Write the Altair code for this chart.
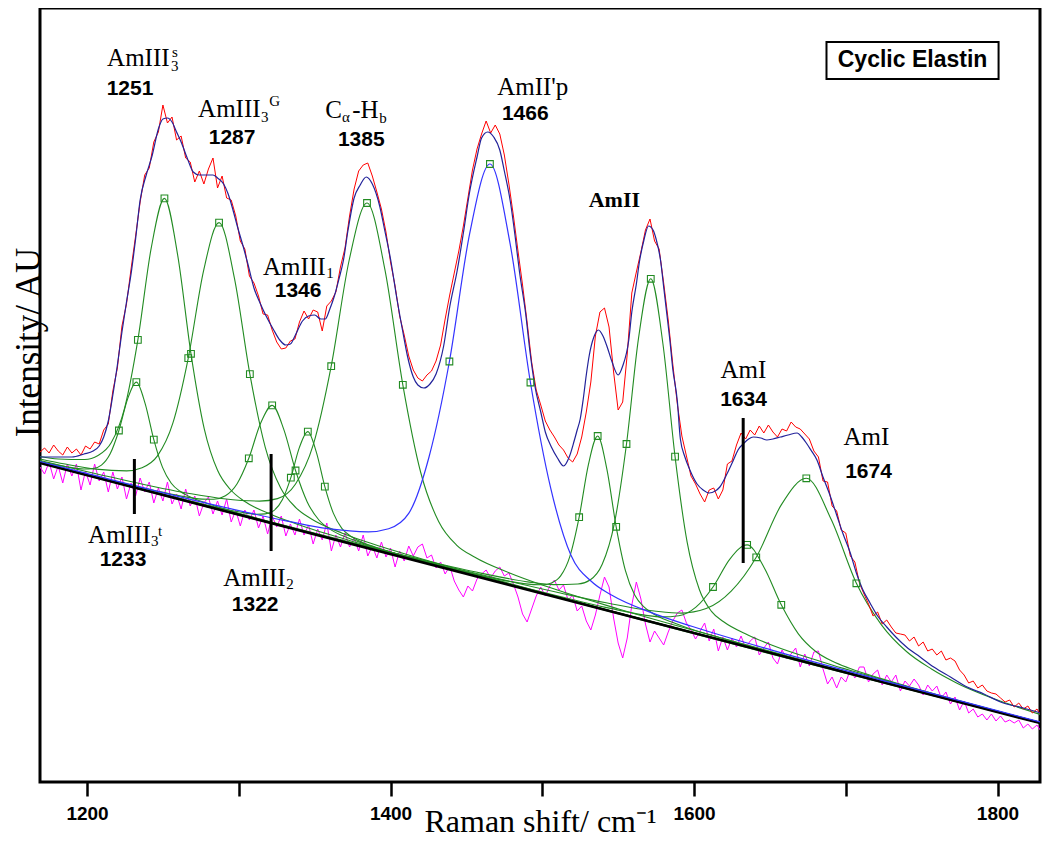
import altair as alt
import pandas as pd

X_DOMAIN = [1169, 1828]
Y_DOMAIN = [0, 774]
tick_values = [1200, 1300, 1400, 1500, 1600, 1700, 1800]

# measured spectrum (red) and residual (magenta) on a common Raman-shift grid
spec_x = [1169, 1172, 1175, 1178, 1181, 1184, 1187, 1190, 1193, 1196,
          1199, 1202, 1205, 1208, 1211, 1214, 1217, 1220, 1223, 1226,
          1229, 1232, 1235, 1238, 1241, 1244, 1247, 1250, 1253, 1256,
          1259, 1262, 1265, 1268, 1271, 1274, 1277, 1280, 1283, 1286,
          1289, 1292, 1295, 1298, 1301, 1304, 1307, 1310, 1313, 1316,
          1319, 1322, 1325, 1328, 1331, 1334, 1337, 1340, 1343, 1346,
          1349, 1352, 1355, 1358, 1361, 1364, 1367, 1370, 1373, 1376,
          1379, 1382, 1385, 1388, 1391, 1394, 1397, 1400, 1403, 1406,
          1409, 1412, 1415, 1418, 1421, 1424, 1427, 1430, 1433, 1436,
          1439, 1442, 1445, 1448, 1451, 1454, 1457, 1460, 1463, 1466,
          1469, 1472, 1475, 1478, 1481, 1484, 1487, 1490, 1493, 1496,
          1499, 1502, 1505, 1508, 1511, 1514, 1517, 1520, 1523, 1526,
          1529, 1532, 1535, 1538, 1541, 1544, 1547, 1550, 1553, 1556,
          1559, 1562, 1565, 1568, 1571, 1574, 1577, 1580, 1583, 1586,
          1589, 1592, 1595, 1598, 1601, 1604, 1607, 1610, 1613, 1616,
          1619, 1622, 1625, 1628, 1631, 1634, 1637, 1640, 1643, 1646,
          1649, 1652, 1655, 1658, 1661, 1664, 1667, 1670, 1673, 1676,
          1679, 1682, 1685, 1688, 1691, 1694, 1697, 1700, 1703, 1706,
          1709, 1712, 1715, 1718, 1721, 1724, 1727, 1730, 1733, 1736,
          1739, 1742, 1745, 1748, 1751, 1754, 1757, 1760, 1763, 1766,
          1769, 1772, 1775, 1778, 1781, 1784, 1787, 1790, 1793, 1796,
          1799, 1802, 1805, 1808, 1811, 1814, 1817, 1820, 1823, 1826,
          1829, 1832]
spec_y = [330, 334, 329, 337, 331, 327, 335, 329, 333, 327,
          336, 333, 340, 338, 352, 358, 391, 414, 456, 478,
          513, 546, 580, 607, 614, 640, 650, 677, 659, 665,
          642, 646, 624, 620, 600, 611, 598, 613, 624, 594,
          606, 584, 582, 566, 541, 533, 506, 499, 486, 468,
          467, 452, 440, 433, 434, 441, 443, 460, 471, 463,
          472, 470, 451, 476, 481, 490, 515, 534, 566, 593,
          611, 617, 619, 606, 590, 573, 550, 520, 496, 466,
          447, 426, 412, 404, 401, 407, 411, 421, 437, 463,
          487, 509, 531, 556, 584, 612, 633, 648, 661, 649,
          657, 648, 627, 598, 566, 531, 497, 460, 420, 392,
          377, 361, 352, 345, 337, 332, 324, 320, 328, 345,
          370, 400, 446, 470, 474, 455, 410, 372, 380, 428,
          489, 510, 530, 552, 563, 541, 533, 499, 462, 418,
          378, 346, 326, 306, 298, 288, 280, 292, 294, 283,
          292, 318, 321, 337, 349, 343, 352, 347, 356, 349,
          357, 350, 345, 353, 351, 360, 355, 353, 348, 343,
          331, 325, 301, 300, 276, 271, 252, 249, 226, 220,
          199, 188, 178, 166, 170, 158, 162, 155, 149, 148,
          147, 141, 145, 136, 140, 131, 133, 127, 131, 122,
          124, 121, 112, 107, 99, 101, 94, 97, 91, 89,
          88, 84, 80, 82, 75, 79, 73, 76, 69, 73,
          66, 70]
resid_y = [315, 308, 320, 303, 316, 299, 318, 306, 318, 292,
           311, 297, 318, 301, 310, 290, 310, 293, 305, 283,
           299, 286, 304, 290, 300, 279, 294, 281, 300, 278,
           288, 273, 293, 276, 286, 266, 279, 285, 268, 281,
           267, 283, 260, 272, 256, 272, 262, 272, 254, 266,
           248, 266, 255, 266, 246, 258, 247, 263, 247, 257,
           238, 253, 242, 259, 231, 247, 235, 249, 235, 244,
           231, 247, 226, 236, 224, 240, 225, 234, 215, 231,
           221, 236, 226, 235, 238, 224, 227, 214, 220, 208,
           216, 201, 192, 185, 196, 191, 203, 208, 212, 204,
           211, 215, 206, 209, 198, 185, 168, 160, 173, 186,
           195, 186, 196, 202, 192, 197, 182, 187, 171, 176,
           161, 152, 167, 187, 205, 195, 164, 139, 124, 144,
           177, 200, 183, 158, 140, 151, 144, 137, 150, 161,
           169, 172, 159, 152, 143, 151, 159, 141, 153, 131,
           145, 132, 144, 135, 146, 134, 141, 145, 127, 134,
           140, 124, 118, 132, 123, 128, 134, 115, 128, 116,
           130, 131, 113, 98, 105, 94, 105, 100, 112, 104,
           115, 115, 100, 108, 112, 97, 107, 100, 107, 91,
           101, 96, 103, 97, 87, 97, 91, 96, 84, 90,
           78, 85, 72, 81, 69, 73, 65, 68, 62, 68,
           61, 66, 60, 62, 59, 62, 54, 58, 53, 57,
           50, 52]

# total fit (dark blue)
fit_x = [1169, 1180, 1190, 1198, 1204, 1208, 1211, 1214, 1217, 1220,
         1223, 1226, 1229, 1232, 1235, 1239, 1243, 1247, 1250, 1253,
         1256, 1259, 1262, 1266, 1270, 1274, 1279, 1283, 1286, 1290,
         1293, 1296, 1299, 1303, 1306, 1310, 1314, 1318, 1323, 1327,
         1331, 1334, 1337, 1342, 1346, 1350, 1354, 1357, 1360, 1363,
         1366, 1369, 1372, 1376, 1380, 1384, 1388, 1393, 1396, 1400,
         1404, 1408, 1411, 1415, 1418, 1422, 1426, 1430, 1435, 1439,
         1444, 1448, 1452, 1457, 1460, 1464, 1468, 1472, 1475, 1479,
         1482, 1485, 1489, 1492, 1495, 1499, 1502, 1506, 1510, 1514,
         1518, 1521, 1523, 1525, 1527, 1529, 1531, 1534, 1537, 1540,
         1543, 1546, 1550, 1553, 1557, 1559, 1562, 1564, 1567, 1570,
         1573, 1575, 1578, 1580, 1582, 1584, 1586, 1589, 1591, 1594,
         1597, 1602, 1606, 1610, 1614, 1617, 1622, 1626, 1629, 1633,
         1636, 1639, 1644, 1648, 1652, 1657, 1662, 1668, 1671, 1674,
         1677, 1681, 1685, 1690, 1694, 1698, 1703, 1707, 1711, 1716,
         1721, 1727, 1733, 1740, 1749, 1758, 1769, 1780, 1791, 1802,
         1817, 1833]
fit_y = [325, 325, 325, 328, 331, 336, 345, 361, 387, 417,
         450, 480, 508, 543, 582, 607, 627, 653, 663, 664,
         660, 650, 640, 624, 610, 607, 607, 607, 604, 598,
         588, 573, 556, 535, 518, 494, 479, 466, 452, 442,
         437, 438, 446, 461, 466, 467, 463, 463, 473, 486,
         503, 522, 552, 584, 597, 605, 598, 575, 553, 523,
         485, 451, 427, 405, 397, 394, 398, 408, 436, 475,
         512, 549, 589, 625, 644, 650, 645, 632, 611, 580,
         547, 510, 469, 429, 397, 370, 350, 335, 324, 316,
         326, 341, 352, 363, 383, 407, 427, 445, 452, 446,
         434, 420, 407, 416, 442, 470, 498, 520, 542, 556,
         552, 543, 521, 495, 469, 443, 413, 381, 343, 325,
         313, 298, 292, 289, 291, 295, 309, 322, 332, 339,
         343, 345, 344, 342, 343, 345, 347, 349, 345, 339,
         332, 322, 305, 285, 267, 249, 229, 209, 193, 179,
         166, 155, 145, 135, 125, 115, 105, 95, 88, 80,
         74, 67]

# linear baseline (black)
base_x = [1169, 1833]
base_y = [319, 57]

# fitted band components (green; 1466 drawn in blue)
c1233_x = [1169, 1175, 1186.5, 1198, 1203.75, 1209.5, 1215.25, 1221, 1226.75, 1232.5, 1238.25, 1244, 1249.75, 1255.5, 1261.25, 1267, 1278.5, 1290, 1313, 1347.5, 1833]
c1233_y = [320.7, 318.6, 315.2, 313.0, 313.4, 316.9, 328.2, 351.5, 383.1, 399.9, 378.6, 342.4, 314.6, 298.8, 290.7, 285.8, 278.9, 273.3, 263.3, 249.1, 57.0]
c1251_x = [1169, 1181, 1198.5, 1207.25, 1216, 1224.75, 1233.5, 1242.25, 1251, 1259.75, 1268.5, 1277.25, 1286, 1294.75, 1303.5, 1321, 1338.5, 1373.5, 1426, 1833]
c1251_y = [325.5, 323.0, 322.5, 326.5, 339.4, 373.9, 442.1, 533.6, 583.6, 526.7, 428.2, 353.2, 311.7, 292.0, 281.0, 267.7, 257.8, 241.3, 219.1, 57.1]
c1287_x = [1169, 1185.5, 1205.8, 1226.1, 1236.25, 1246.4, 1256.55, 1266.7, 1276.85, 1287, 1297.15, 1307.3, 1317.45, 1327.6, 1337.75, 1347.9, 1368.2, 1388.5, 1429.1, 1490, 1833]
c1287_y = [323.1, 318.0, 312.9, 311.1, 314.3, 326.1, 358.8, 423.9, 511.7, 559.4, 503.7, 407.9, 334.7, 294.0, 274.2, 263.0, 248.8, 237.9, 219.3, 193.8, 57.2]
c1322_x = [1169, 1214.2, 1245, 1260.4, 1275.8, 1283.5, 1291.2, 1298.9, 1306.6, 1314.3, 1322, 1329.7, 1337.4, 1345.1, 1352.8, 1360.5, 1368.2, 1383.6, 1399, 1429.8, 1476, 1833]
c1322_y = [319.6, 302.4, 291.3, 286.4, 282.9, 282.8, 286.3, 298.3, 323.7, 358.5, 376.6, 352.4, 311.5, 280.1, 262.0, 252.4, 246.4, 237.8, 230.5, 217.3, 198.5, 57.1]
c1346_x = [1169, 1233.5, 1267.1, 1289.5, 1300.7, 1311.9, 1317.5, 1323.1, 1328.7, 1334.3, 1339.9, 1345.5, 1351.1, 1356.7, 1362.3, 1367.9, 1373.5, 1379.1, 1390.3, 1401.5, 1423.9, 1457.5, 1833]
c1346_y = [319.2, 294.1, 281.3, 273.4, 270.0, 267.8, 268.1, 271.4, 282.2, 304.3, 334.4, 350.4, 329.9, 295.4, 268.9, 253.7, 246.0, 241.3, 234.7, 229.2, 219.4, 205.7, 57.1]
c1385_x = [1169, 1219.3, 1266.5, 1290.1, 1313.7, 1325.5, 1337.3, 1349.1, 1360.9, 1372.7, 1384.5, 1396.3, 1408.1, 1419.9, 1431.7, 1443.5, 1455.3, 1478.9, 1502.5, 1549.7, 1620.5, 1833]
c1385_y = [321.6, 303.7, 288.8, 283.3, 280.9, 283.4, 297.8, 337.3, 415.8, 521.5, 579.0, 512.3, 397.2, 309.5, 260.5, 236.9, 225.0, 208.8, 195.7, 173.3, 143.0, 57.5]
c1466_x = [1169, 1198.5, 1278.6, 1332, 1358.7, 1385.4, 1398.75, 1412.1, 1425.45, 1438.8, 1452.15, 1465.5, 1478.85, 1492.2, 1505.55, 1518.9, 1532.25, 1545.6, 1572.3, 1599, 1652.4, 1732.5, 1833]
c1466_y = [320.5, 309.1, 278.9, 260.9, 253.3, 250.2, 253.3, 268.9, 325.5, 420.5, 548.4, 618.0, 537.8, 399.5, 293.9, 226.7, 200.7, 187.0, 169.1, 155.5, 131.4, 98.3, 58.1]
c1537_x = [1169, 1414.5, 1451.1, 1475.5, 1487.7, 1499.9, 1506, 1512.1, 1518.2, 1524.3, 1530.4, 1536.5, 1542.6, 1548.7, 1554.8, 1560.9, 1567, 1573.1, 1585.3, 1597.5, 1621.9, 1658.5, 1833]
c1537_y = [319.1, 223.0, 209.5, 201.4, 198.4, 197.2, 199.1, 206.1, 225.7, 264.8, 317.4, 346.0, 312.6, 255.2, 211.3, 186.9, 175.1, 168.3, 159.9, 153.2, 142.1, 126.7, 57.0]
c1571_x = [1169, 1411.5, 1459.5, 1491.5, 1507.5, 1523.5, 1531.5, 1539.5, 1547.5, 1555.5, 1563.5, 1571.5, 1579.5, 1587.5, 1595.5, 1603.5, 1611.5, 1619.5, 1635.5, 1651.5, 1683.5, 1731.5, 1833]
c1571_y = [319.3, 225.6, 208.9, 199.9, 197.4, 198.0, 202.0, 217.7, 258.4, 338.0, 444.6, 503.2, 438.3, 325.4, 239.6, 192.5, 170.6, 160.2, 147.0, 136.8, 120.5, 99.3, 57.6]
c1634_x = [1169, 1410, 1477.5, 1522.5, 1545, 1567.5, 1578.75, 1590, 1601.25, 1612.5, 1623.75, 1635, 1646.25, 1657.5, 1668.75, 1680, 1691.25, 1702.5, 1725, 1747.5, 1792.5, 1833]
c1634_y = [319.1, 224.4, 198.3, 181.5, 173.6, 166.9, 165.1, 166.3, 174.8, 195.0, 223.2, 237.1, 214.3, 177.2, 148.2, 130.8, 120.7, 113.7, 102.6, 92.7, 74.0, 57.7]
c1674_x = [1169, 1344, 1443, 1509, 1542, 1575, 1591.5, 1608, 1624.5, 1641, 1657.5, 1674, 1690.5, 1707, 1723.5, 1740, 1756.5, 1773, 1806, 1833]
c1674_y = [319.7, 251.2, 213.5, 190.0, 179.2, 170.8, 168.9, 173.4, 190.8, 224.7, 277.1, 303.7, 262.2, 198.7, 157.2, 130.5, 113.0, 99.1, 78.7, 65.3]

# square markers on the components (peak and half-height points)
sq_x = [1221, 1232.5, 1244, 1233.5, 1251, 1268.5, 1266.7, 1287, 1307.3, 1306.6, 1322, 1337.4,
        1334.3, 1345.5, 1356.7, 1360.9, 1384.5, 1408.1, 1438.8, 1465.5, 1492.2, 1524.3, 1536.5,
        1548.7, 1555.5, 1571.5, 1587.5, 1612.5, 1635, 1657.5, 1641, 1674, 1707]
sq_y = [351.5, 399.9, 342.4, 442.1, 583.6, 428.2, 423.9, 559.4, 407.9, 323.7, 376.6, 311.5,
        304.3, 350.4, 295.4, 415.8, 579.0, 397.2, 420.5, 618.0, 399.5, 264.8, 346.0,
        255.2, 338.0, 503.2, 325.4, 195.0, 237.1, 177.2, 224.7, 303.7, 198.7]

# vertical band markers
mk_x = [1231.2, 1321.3, 1632.4]
mk_y1 = [323, 328, 364]
mk_y2 = [268, 231, 219]

# annotations
name_text = ["AmIII", "AmIII", "C", "-H", "AmII'p", "AmIII", "AmI", "AmI", "AmIII", "AmIII"]
name_x = [1213.2, 1273.2, 1356.9, 1374.7, 1470.3, 1316.0, 1617.4, 1698.5, 1200.7, 1289.7]
name_y = [716, 665, 664, 664, 687, 507, 404, 337, 239, 196]
small_text = ["3", "s", "3", "G", "\u03b1", "b", "1", "3", "t", "2"]
small_x = [1255.4, 1256.0, 1314.7, 1320.0, 1368.1, 1392.5, 1357.6, 1242.2, 1246.8, 1331.2]
small_y = [711, 725, 660, 676, 660, 659, 504, 236, 246, 193]
num_text = ["1251", "1287", "1385", "1466", "1346", "1634", "1674", "1233", "1322"]
num_x = [1228.3, 1295.6, 1380.7, 1488.8, 1339.1, 1632.6, 1715.0, 1223.7, 1310.8]
num_y = [693, 644, 642, 668, 491, 382, 310, 222, 177]
amii_text = ["AmII"]
amii_x = [1547.5]
amii_y = [575]
box_x1, box_x2, box_y1, box_y2 = [1687.3], [1800.7], [703], [740]
box_text = ["Cyclic Elastin"]
box_tx, box_ty = [1744.0], [722]

GREEN = "#228b22"


def frame(xs, ys, **extra):
    d = pd.DataFrame({"x": xs, "y": ys})
    for k, v in extra.items():
        d[k] = v
    return d


green_df = pd.concat([
    frame(c1233_x, c1233_y, comp="1233"),
    frame(c1251_x, c1251_y, comp="1251"),
    frame(c1287_x, c1287_y, comp="1287"),
    frame(c1322_x, c1322_y, comp="1322"),
    frame(c1346_x, c1346_y, comp="1346"),
    frame(c1385_x, c1385_y, comp="1385"),
    frame(c1537_x, c1537_y, comp="1537"),
    frame(c1571_x, c1571_y, comp="1571"),
    frame(c1634_x, c1634_y, comp="1634"),
    frame(c1674_x, c1674_y, comp="1674"),
], ignore_index=True)

x_scale = alt.Scale(domain=X_DOMAIN, nice=False, zero=False)
y_scale = alt.Scale(domain=Y_DOMAIN, nice=False, zero=False)
x_axis = alt.Axis(values=tick_values, format="d",
                  labelExpr="datum.value % 200 === 0 ? datum.label : ''",
                  tickSize=14, tickWidth=2.5, tickColor="black", domain=False, grid=False,
                  labelFont="Liberation Sans", labelFontWeight="bold", labelFontSize=19,
                  labelColor="black", labelPadding=8,
                  title="Raman shift/ cm\u207b\u00b9", titleFont="Liberation Serif",
                  titleFontSize=32, titleFontWeight="normal", titleColor="black",
                  titleY=49, titleBaseline="alphabetic")
y_axis = alt.Axis(labels=False, ticks=False, domain=False, grid=False,
                  title="Intensity/ AU", titleFont="Liberation Serif", titleFontSize=35,
                  titleFontWeight="normal", titleColor="black", titleAngle=270,
                  titleX=-1, titleY=334, titleAlign="center", titleBaseline="alphabetic")
X = alt.X("x:Q", scale=x_scale, axis=x_axis)
Y = alt.Y("y:Q", scale=y_scale, axis=y_axis)

resid = alt.Chart(frame(spec_x, resid_y)).mark_line(
    color="#ff00ff", strokeWidth=1, clip=True).encode(X, Y)
greens = alt.Chart(green_df).mark_line(
    color=GREEN, strokeWidth=1.1, interpolate="monotone", clip=True).encode(X, Y, detail="comp:N")
base = alt.Chart(frame(base_x, base_y)).mark_line(
    color="black", strokeWidth=2.6, clip=True).encode(X, Y)
blue_comp = alt.Chart(frame(c1466_x, c1466_y)).mark_line(
    color="#3333ff", strokeWidth=1.2, interpolate="monotone", clip=True).encode(X, Y)
red = alt.Chart(frame(spec_x, spec_y)).mark_line(
    color="#ff0000", strokeWidth=1, clip=True).encode(X, Y)
fit = alt.Chart(frame(fit_x, fit_y)).mark_line(
    color="#22229a", strokeWidth=1.2, interpolate="monotone", clip=True).encode(X, Y)
squares = alt.Chart(frame(sq_x, sq_y)).mark_point(
    shape="square", filled=False, size=45, strokeWidth=1.1, color=GREEN, opacity=1).encode(X, Y)
markers = alt.Chart(pd.DataFrame({"x": mk_x, "y": mk_y1, "y2": mk_y2})).mark_rule(
    color="black", strokeWidth=3).encode(X, Y, y2="y2:Q")

names = alt.Chart(pd.DataFrame({"x": name_x, "y": name_y, "t": name_text})).mark_text(
    font="Liberation Serif", fontSize=25, align="left", baseline="alphabetic", color="black").encode(
    X, Y, text="t:N")
smalls = alt.Chart(pd.DataFrame({"x": small_x, "y": small_y, "t": small_text})).mark_text(
    font="Liberation Serif", fontSize=15, align="left", baseline="alphabetic", color="black").encode(
    X, Y, text="t:N")
nums = alt.Chart(pd.DataFrame({"x": num_x, "y": num_y, "t": num_text})).mark_text(
    font="Liberation Sans", fontSize=21, fontWeight="bold", align="center", baseline="middle",
    color="black").encode(X, Y, text="t:N")
amii = alt.Chart(pd.DataFrame({"x": amii_x, "y": amii_y, "t": amii_text})).mark_text(
    font="Liberation Serif", fontSize=22, fontWeight="bold", align="center", baseline="alphabetic",
    color="black").encode(X, Y, text="t:N")
box = alt.Chart(pd.DataFrame({"x": box_x1, "x2": box_x2, "y": box_y1, "y2": box_y2})).mark_rect(
    fill="white", stroke="black", strokeWidth=2).encode(X, Y, x2="x2:Q", y2="y2:Q")
box_label = alt.Chart(pd.DataFrame({"x": box_tx, "y": box_ty, "t": box_text})).mark_text(
    font="Liberation Sans", fontSize=23, fontWeight="bold", align="center", baseline="middle",
    color="black").encode(X, Y, text="t:N")

chart = alt.layer(
    resid, greens, base, blue_comp, red, fit, squares, markers,
    names, smalls, nums, amii, box, box_label
).properties(
    width=1000, height=774,
    autosize=alt.AutoSizeParams(type="none"),
    padding={"left": 32, "top": 0, "right": 2, "bottom": 57},
).configure_view(stroke="black", strokeWidth=3)

chart.save("out.html", embed_options={"renderer": "svg", "actions": False})
